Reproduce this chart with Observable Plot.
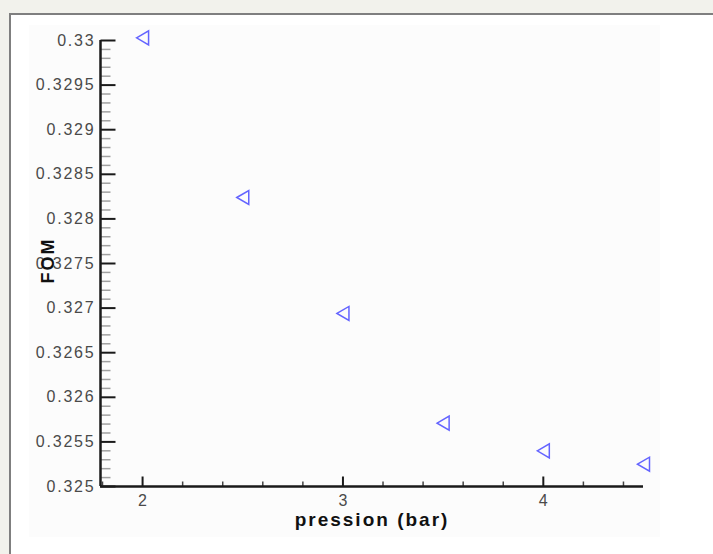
<!DOCTYPE html>
<html>
<head>
<meta charset="utf-8">
<script src="https://cdn.jsdelivr.net/npm/d3@7"></script>
<script src="https://cdn.jsdelivr.net/npm/@observablehq/plot@0.6"></script>
<style>
  html, body { margin: 0; padding: 0; }
  body { width: 713px; height: 554px; background: #f2f2ec; position: relative; overflow: hidden; font-family: "Liberation Sans", Arial, sans-serif; }
  #frame { position: absolute; left: 9px; top: 13px; width: 720px; height: 560px; border-left: 2px solid #7f7f7f; border-top: 2px solid #7f7f7f; background: #ffffff; }
  #inner { position: absolute; left: 29px; top: 25px; width: 631px; height: 512px; background: #fcfcfc; }
  #chart { position: absolute; left: 0; top: 0; }
</style>
</head>
<body>
<div id="frame"></div>
<div id="inner"></div>
<div id="chart"></div>
<script>
// Data
const pression = [2, 2.5, 3, 3.5, 4, 4.5];
const fom = [0.33003, 0.32824, 0.32694, 0.32571, 0.32540, 0.32525];

// Axes
const xDomain = [1.79, 4.5];
const yDomain = [0.325, 0.33];
const xTicks = [2, 3, 4];
const xTickLabels = ["2", "3", "4"];
const xMinorTicks = [1.8, 2.2, 2.4, 2.6, 2.8, 3.2, 3.4, 3.6, 3.8, 4.2, 4.4];
const yTicks = [0.325, 0.3255, 0.326, 0.3265, 0.327, 0.3275, 0.328, 0.3285, 0.329, 0.3295, 0.33];
const yTickLabels = ["0.325", "0.3255", "0.326", "0.3265", "0.327", "0.3275", "0.328", "0.3285", "0.329", "0.3295", "0.33"];
const yMinorTicks = d3.range(0, 51).map(i => 0.325 + i * 0.0001).filter((v, i) => i % 5 !== 0);
const xTitle = "pression (bar)";
const yTitle = "FOM";

const points = pression.map((p, i) => ({pression: p, fom: fom[i]}));

// custom symbols
const triLeft = { draw(ctx) { ctx.moveTo(-6, 0); ctx.lineTo(6, -7); ctx.lineTo(6, 7); ctx.closePath(); } };
const hTick = len => ({ draw(ctx) { ctx.moveTo(0, 0); ctx.lineTo(len, 0); } });
const vTick = len => ({ draw(ctx) { ctx.moveTo(0, 0); ctx.lineTo(0, -len); } });

const x0 = xDomain[0];
const y0 = yDomain[0];

const chart = Plot.plot({
  width: 713,
  height: 554,
  marginLeft: 100,
  marginRight: 70,
  marginTop: 40,
  marginBottom: 68,
  style: { background: "transparent", fontFamily: "'Liberation Sans', Arial, sans-serif", overflow: "visible" },
  x: { domain: xDomain, axis: null },
  y: { domain: yDomain, axis: null },
  marks: [
    Plot.dot(yMinorTicks, { x: () => x0, y: d => d, symbol: hTick(10), stroke: "#a0a0a0", strokeWidth: 1.5, fill: "none" }),
    Plot.dot(yTicks, { x: () => x0, y: d => d, symbol: hTick(15), stroke: "#1a1a1a", strokeWidth: 2, fill: "none" }),
    Plot.dot(xMinorTicks, { x: d => d, y: () => y0, symbol: vTick(5), stroke: "#444", strokeWidth: 1.5, fill: "none" }),
    Plot.dot(xTicks, { x: d => d, y: () => y0, symbol: vTick(10), stroke: "#1a1a1a", strokeWidth: 2, fill: "none" }),
    Plot.ruleX([x0], { y1: yDomain[0], y2: yDomain[1], stroke: "#1a1a1a", strokeWidth: 2.5 }),
    Plot.ruleY([y0], { x1: xDomain[0], x2: xDomain[1], stroke: "#1a1a1a", strokeWidth: 2.5 }),
    Plot.text(yTicks, { x: () => x0, y: d => d, text: (d, i) => yTickLabels[i], textAnchor: "end", dx: -5, fontSize: 16, fill: "#4a4a4a" }),
    Plot.text(xTicks, { x: d => d, y: () => y0, text: (d, i) => xTickLabels[i], lineAnchor: "middle", dy: 14, fontSize: 16, fill: "#4a4a4a" }),
    Plot.text([xTitle], { frameAnchor: "bottom", text: d => d, textAnchor: "middle", lineAnchor: "middle", dy: 33, fontSize: 19, fontWeight: "bold", fill: "#111" }),
    Plot.text([yTitle], { frameAnchor: "left", text: d => d, textAnchor: "middle", lineAnchor: "middle", rotate: -90, dx: -52, dy: -3, fontSize: 18, fontWeight: "bold", fill: "#111" }),
    Plot.dot(points, { x: "pression", y: "fom", symbol: triLeft, stroke: "#6464ff", strokeWidth: 1.5, fill: "none" })
  ]
});

// letter spacing to mimic the wide original lettering
d3.select(chart).selectAll("text").each(function () {
  const t = this.textContent;
  if (yTickLabels.includes(t)) this.setAttribute("letter-spacing", "1.8");
  else if (xTickLabels.includes(t)) this.setAttribute("letter-spacing", "0");
  else if (t === xTitle) this.setAttribute("letter-spacing", "2");
  else if (t === yTitle) this.setAttribute("letter-spacing", "2");
});
document.getElementById("chart").appendChild(chart);
</script>
</body>
</html>
